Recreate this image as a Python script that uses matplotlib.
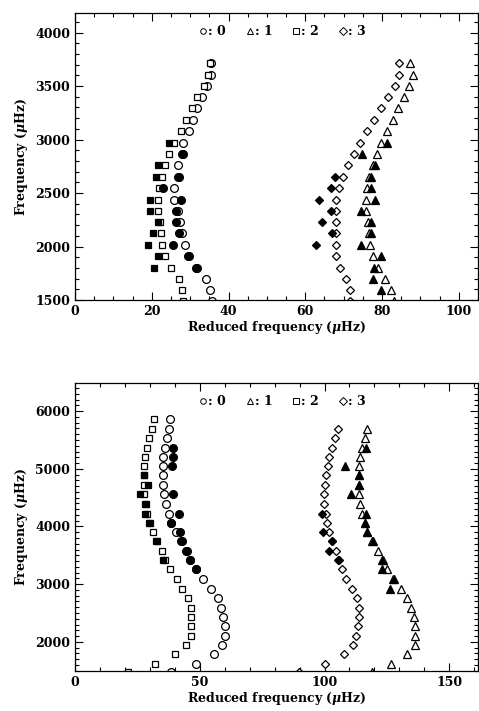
import matplotlib
matplotlib.use('Agg')
import matplotlib.pyplot as plt
from matplotlib.lines import Line2D
from matplotlib.ticker import MultipleLocator

plt.rcParams['font.family'] = 'DejaVu Serif'
plt.rcParams['font.weight'] = 'bold'
plt.rcParams['mathtext.fontset'] = 'dejavuserif'
plt.rcParams['font.size'] = 9

# ---- top panel data (frequency rows, reduced frequency of each degree) ----
top_freq = [3714, 3605, 3502, 3397, 3291, 3185, 3076, 2970, 2865, 2759, 2653,
            2547, 2439, 2336, 2230, 2124, 2016, 1910, 1804, 1698, 1593, 1490]
top_l0 = [35.4, 35.4, 34.3, 33.2, 31.8, 30.7, 29.6, 28.2, 27.8, 26.8, 26.8,
          25.8, 25.9, 26.8, 27.4, 28.0, 28.7, 29.7, 31.7, 34.1, 35.2, 35.6]
top_l2 = [35.2, 34.6, 33.5, 31.9, 30.4, 29.0, 27.5, 25.8, 24.6, 23.4, 22.6,
          22.0, 21.7, 21.7, 22.2, 22.3, 22.7, 23.5, 25.1, 27.0, 27.9, 28.1]
top_l3 = [84.3, 84.5, 83.3, 81.6, 79.8, 78.0, 76.1, 74.3, 72.6, 71.1, 69.8,
          68.9, 68.1, 67.9, 67.9, 67.9, 67.9, 68.1, 69.0, 70.6, 71.6, 71.6]
top_l1 = [87.2, 88.0, 87.0, 85.7, 84.2, 82.8, 81.3, 79.8, 78.7, 77.7, 76.6,
          76.1, 75.7, 75.9, 76.3, 76.5, 76.8, 77.6, 79.0, 80.9, 82.3, 83.0]

# observed (filled symbols)
top_obs0_f = [2865, 2653, 2547, 2439, 2336, 2230, 2124, 2016, 1910, 1804]
top_obs0_x = [28.1, 27.0, 22.8, 27.6, 26.3, 26.3, 27.0, 25.5, 29.4, 31.5]
top_obs2_f = [2970, 2759, 2653, 2439, 2336, 2230, 2124, 2016, 1910, 1804]
top_obs2_x = [24.4, 21.7, 21.0, 19.6, 19.6, 21.7, 20.3, 19.0, 21.7, 20.6]
top_obs3_f = [2653, 2547, 2439, 2336, 2230, 2124, 2016]
top_obs3_x = [67.7, 66.8, 63.7, 66.8, 64.3, 67.0, 62.9]
top_obs1_f = [2970, 2865, 2759, 2653, 2547, 2439, 2336, 2230, 2124, 2016,
              1910, 1804, 1698, 1593]
top_obs1_x = [81.3, 74.8, 78.2, 77.2, 77.2, 78.2, 74.4, 77.1, 77.2, 74.4,
              79.7, 77.8, 77.7, 79.8]

# ---- bottom panel data ----
bot_freq = [5855, 5688, 5526, 5364, 5208, 5046, 4884, 4717, 4555, 4393,
            4225, 4058, 3896, 3740, 3572, 3416, 3260, 3087, 2919, 2757,
            2595, 2434, 2272, 2110, 1942, 1786, 1624, 1480]
bot_l0 = [38.2, 37.6, 36.7, 35.9, 35.4, 35.1, 35.1, 35.4, 35.6, 36.4,
          37.5, 38.6, 40.3, 42.5, 44.7, 46.1, 48.5, 51.4, 54.3, 57.4,
          58.7, 59.4, 60.1, 60.3, 59.0, 55.8, 48.5, 38.3]
bot_l2 = [31.6, 30.7, 29.8, 28.8, 28.2, 27.8, 27.8, 27.5, 27.6, 27.9,
          28.7, 29.6, 31.4, 33.0, 34.7, 36.2, 38.2, 40.7, 43.0, 45.4,
          46.5, 46.3, 46.5, 46.3, 44.3, 39.9, 32.2, 21.4]
# l=3 and l=1 start one row lower
bot_l3 = [105.2, 104.1, 102.8, 101.9, 101.2, 100.5, 100.1, 99.7, 99.7,
          100.5, 101.1, 101.9, 102.8, 104.5, 105.6, 106.8, 108.8, 111.1,
          113.2, 113.9, 113.9, 113.5, 112.6, 111.5, 107.9, 100.1, 89.9]
bot_l1 = [117.1, 116.2, 115.0, 114.4, 113.9, 113.9, 113.9, 113.9, 114.3,
          115.1, 116.2, 117.2, 119.2, 121.5, 123.5, 125.2, 127.5, 130.6,
          133.1, 134.8, 135.9, 136.2, 136.2, 136.2, 133.1, 126.8, 119.2]

bot_obs0_f = [5364, 5208, 5046, 4555, 4225, 4058, 3896, 3740, 3572, 3416, 3260]
bot_obs0_x = [39.3, 39.3, 38.7, 39.1, 41.7, 38.3, 42.2, 42.7, 44.5, 46.0, 48.4]
bot_obs2_f = [4884, 4717, 4555, 4393, 4225, 4058, 3740, 3416]
bot_obs2_x = [27.6, 29.2, 26.2, 28.5, 28.0, 30.1, 32.6, 35.4]
bot_obs3_f = [4225, 3896, 3740, 3572, 3416]
bot_obs3_x = [99.0, 99.3, 103.0, 101.9, 105.5]
bot_obs1_f = [5364, 5046, 4884, 4717, 4555, 4225, 4058, 3896, 3740, 3416,
              3260, 3087, 2919]
bot_obs1_x = [116.8, 108.3, 113.9, 113.7, 110.8, 116.8, 116.2, 117.2, 119.5,
              123.2, 123.2, 128.0, 126.2]

# marker style for each degree: (marker, size)
sym = {0: ('o', 5.6), 1: ('^', 6.2), 2: ('s', 4.0), 3: ('D', 4.2)}


def panel(ax, f, l0, l1, l2, l3, obs):
    # model values: open symbols (l=1, l=3 lists may be one row shorter)
    for l, x in [(0, l0), (2, l2), (3, l3), (1, l1)]:
        m, s = sym[l]
        y = f[len(f) - len(x):]
        ax.plot(x, y, ls='', marker=m, ms=s, mfc='white', mec='k', mew=0.9)
    # observed values: filled symbols
    for l, (ox, of) in obs.items():
        m, s = sym[l]
        ax.plot(ox, of, ls='', marker=m, ms=s, mfc='k', mec='k', mew=0.9)

    ax.set_xlabel(r'Reduced frequency ($\mu$Hz)', fontweight='bold', labelpad=1)
    ax.set_ylabel(r'Frequency ($\mu$Hz)', fontweight='bold', labelpad=4)
    ax.tick_params(which='both', direction='in', top=True, right=True, width=0.8)
    ax.tick_params(which='major', length=6)
    ax.tick_params(which='minor', length=3)
    for sp in ax.spines.values():
        sp.set_linewidth(0.9)

    handles = [Line2D([], [], ls='', marker=m, ms=4.0, mfc='white', mec='k', mew=0.7)
               for m in ['o', '^', 's', 'D']]
    ax.legend(handles, [': 0', ': 1', ': 2', ': 3'], ncol=4, loc='center',
              bbox_to_anchor=(0.515, 0.937), frameon=False, handlelength=0.6,
              handletextpad=0.1, columnspacing=1.6, borderpad=0,
              prop={'weight': 'bold', 'size': 9})


fig = plt.figure(figsize=(4.79, 7.11), dpi=100)

ax1 = fig.add_axes([0.1566, 0.578, 0.8413, 0.4032])
panel(ax1, top_freq, top_l0, top_l1, top_l2, top_l3,
      {0: (top_obs0_x, top_obs0_f), 2: (top_obs2_x, top_obs2_f),
       3: (top_obs3_x, top_obs3_f), 1: (top_obs1_x, top_obs1_f)})
ax1.set_xlim(0, 105)
ax1.set_ylim(1500, 4180)
ax1.xaxis.set_major_locator(MultipleLocator(20))
ax1.xaxis.set_minor_locator(MultipleLocator(5))
ax1.yaxis.set_major_locator(MultipleLocator(500))
ax1.yaxis.set_minor_locator(MultipleLocator(100))

ax2 = fig.add_axes([0.1566, 0.0567, 0.8413, 0.404])
panel(ax2, bot_freq, bot_l0, bot_l1, bot_l2, bot_l3,
      {0: (bot_obs0_x, bot_obs0_f), 2: (bot_obs2_x, bot_obs2_f),
       3: (bot_obs3_x, bot_obs3_f), 1: (bot_obs1_x, bot_obs1_f)})
ax2.set_xlim(0, 161.5)
ax2.set_ylim(1500, 6480)
ax2.xaxis.set_major_locator(MultipleLocator(50))
ax2.xaxis.set_minor_locator(MultipleLocator(10))
ax2.yaxis.set_major_locator(MultipleLocator(1000))
ax2.yaxis.set_minor_locator(MultipleLocator(100))

plt.savefig('out.png', dpi=100)
